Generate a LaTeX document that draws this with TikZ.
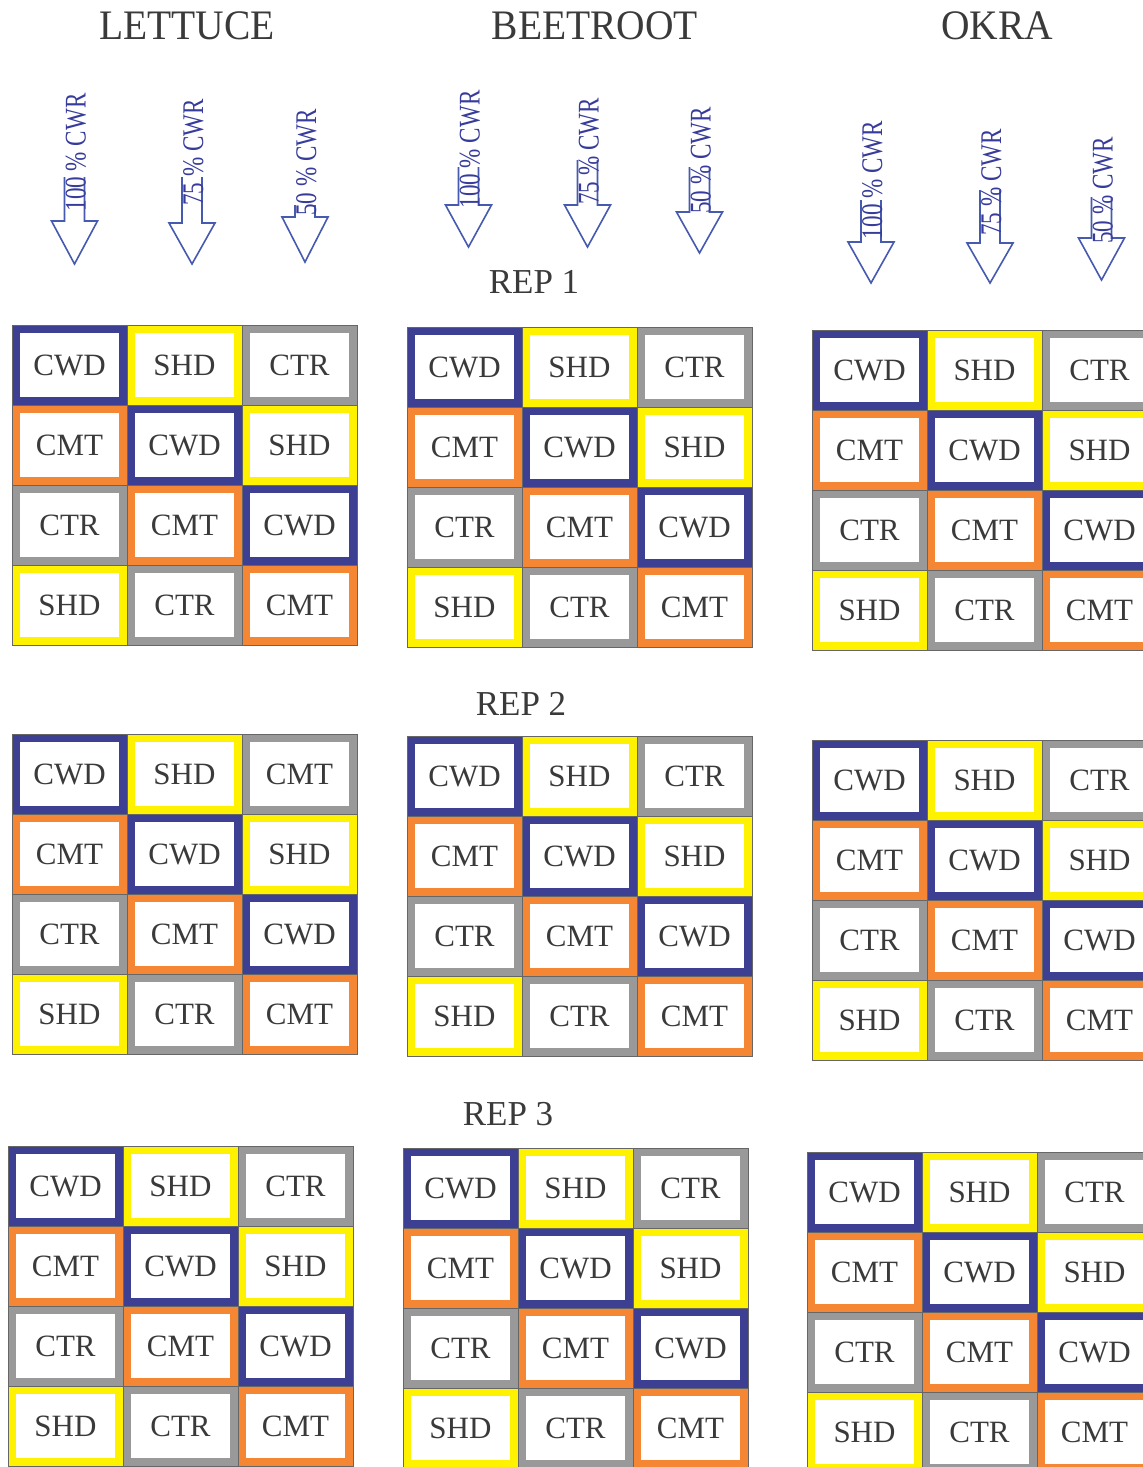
\documentclass[tikz,border=0pt]{standalone}
\usepackage{fontspec}
\setmainfont{Liberation Serif}
\newfontfamily\arrfont[FakeStretch=0.77]{Liberation Serif}
\newfontfamily\hdrfont[FakeStretch=0.94]{Liberation Serif}
\definecolor{cblue}{RGB}{61,63,146}
\definecolor{cyellow}{RGB}{255,242,0}
\definecolor{cgray}{RGB}{153,153,153}
\definecolor{corange}{RGB}{245,134,52}
\definecolor{ctext}{RGB}{58,58,58}
\definecolor{abluetext}{RGB}{55,60,155}
\definecolor{ablue}{RGB}{70,90,175}
\tikzset{
  cell/.style={rectangle, minimum width=107pt, minimum height=72pt, line width=8pt, inner sep=0pt,
    font=\fontsize{31}{31}\selectfont, text=ctext},
  gridline/.style={draw=black!60, line width=0.6pt},
  arr/.style={draw=ablue, line width=1.6pt, line join=miter},
  arrtext/.style={font=\arrfont\fontsize{30}{30}\selectfont, text=abluetext, inner sep=0pt, anchor=base},
  header/.style={font=\hdrfont\fontsize{42}{42}\selectfont, text=ctext, inner sep=0pt},
  rep/.style={font=\fontsize{35}{35}\selectfont, text=ctext, inner sep=0pt}
}
\begin{document}
\begin{tikzpicture}[x=1pt,y=-1pt]
\clip (0,0) rectangle (1143,1467);
\fill[white] (0,0) rectangle (1143,1467);
% headers
\node[header] (hL) at (187,26) {LETTUCE};
\node[header] (hB) at (595,26) {BEETROOT};
\node[header] (hO) at (997,26) {OKRA};
% rep labels
\node[rep] (rep1) at (534,282) {REP 1};
\node[rep] (rep2) at (521,704) {REP 2};
\node[rep] (rep3) at (508,1114) {REP 3};
% arrows
\foreach \cx/\st/\ht/\tp/\ty/\lab/\n in {
  74.5/177/221/264/152.5/100 \% CWR/L1, 192/177/223/264/152.5/75 \% CWR/L2, 305/205/217/262/162.5/50 \% CWR/L3,
  468.5/167/205/247/149.5/100 \% CWR/B1, 587.5/160/205/247/151.5/75 \% CWR/B2, 699.5/167/212/253/160.5/50 \% CWR/B3,
  871/200/242/283/180/100 \% CWR/O1, 990/190/243/283/182.5/75 \% CWR/O2, 1101.5/197/238/280/190.5/50 \% CWR/O3}{
  \draw[arr] ({\cx-10},\st) -- ({\cx-10},\ht) -- ({\cx-23},\ht) -- (\cx,\tp) -- ({\cx+23},\ht) -- ({\cx+10},\ht) -- ({\cx+10},\st);
  \node[arrtext, rotate=90] (a-\n) at ({\cx+11},\ty) {\lab};
}
% grids
\foreach \gx/\gy/\gn/\tr in {12/325/L1/CTR, 407/327/B1/CTR, 812/330/O1/CTR,
                             12/734/L2/CMT, 407/736/B2/CTR, 812/740/O2/CTR,
                             8/1146/L3/CTR, 403/1148/B3/CTR, 807/1152/O3/CTR}{
  \foreach \i/\j/\lab/\col in {0/0/CWD/cblue, 1/0/SHD/cyellow, 2/0/\tr/cgray,
                               0/1/CMT/corange, 1/1/CWD/cblue, 2/1/SHD/cyellow,
                               0/2/CTR/cgray, 1/2/CMT/corange, 2/2/CWD/cblue,
                               0/3/SHD/cyellow, 1/3/CTR/cgray, 2/3/CMT/corange}{
    \node[cell, draw=\col] (\gn-\i-\j) at ({\gx+\i*115+57.5},{\gy+\j*80+40}) {\lab};
    \draw[gridline] (\gn-\i-\j.north west) rectangle (\gn-\i-\j.south east);
  }
}
\end{tikzpicture}
\end{document}
